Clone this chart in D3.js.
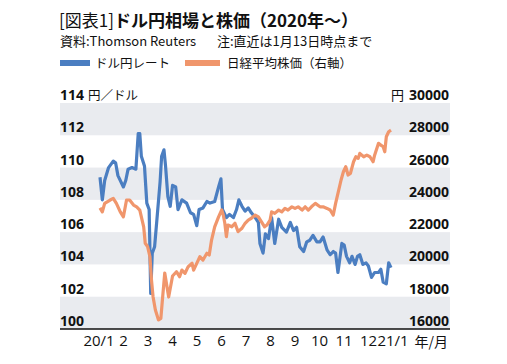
<!DOCTYPE html>
<html><head><meta charset="utf-8">
<script src="https://cdn.jsdelivr.net/npm/d3@7"></script>
<style>
html,body{margin:0;padding:0;background:#fff;}
svg{display:block;}
text{font-family:"Open Sans","Noto Sans CJK JP",sans-serif;fill:#111;}
.jp{font-family:"Noto Sans CJK JP",sans-serif;}
</style></head><body>
<svg id="c" width="507" height="364"></svg>
<script>
// ---- data ----
const usdDates = ["2020-01-06","2020-01-09","2020-01-12","2020-01-17","2020-01-23","2020-01-26","2020-01-29","2020-02-05","2020-02-08","2020-02-11","2020-02-16","2020-02-21","2020-02-24","2020-02-26","2020-02-28","2020-03-03","2020-03-06","2020-03-09","2020-03-11","2020-03-13","2020-03-16","2020-03-19","2020-03-23","2020-03-25","2020-03-28","2020-03-30","2020-04-02","2020-04-05","2020-04-08","2020-04-12","2020-04-15","2020-04-20","2020-04-26","2020-05-01","2020-05-05","2020-05-09","2020-05-12","2020-05-17","2020-05-22","2020-05-26","2020-06-01","2020-06-06","2020-06-09","2020-06-11","2020-06-16","2020-06-20","2020-06-25","2020-06-29","2020-07-02","2020-07-06","2020-07-10","2020-07-14","2020-07-18","2020-07-23","2020-07-27","2020-07-29","2020-08-02","2020-08-05","2020-08-09","2020-08-13","2020-08-17","2020-08-22","2020-08-26","2020-09-01","2020-09-06","2020-09-10","2020-09-14","2020-09-18","2020-09-23","2020-09-27","2020-10-01","2020-10-05","2020-10-10","2020-10-14","2020-10-18","2020-10-23","2020-10-27","2020-10-31","2020-11-03","2020-11-06","2020-11-11","2020-11-14","2020-11-17","2020-11-21","2020-11-24","2020-11-28","2020-12-01","2020-12-04","2020-12-08","2020-12-12","2020-12-15","2020-12-19","2020-12-23","2020-12-28","2020-12-31","2021-01-03","2021-01-07","2021-01-10","2021-01-13"];
const usdValues = [109.4,108.0,109.2,110.0,110.4,110.3,109.5,108.8,109.2,109.9,110.0,109.9,112.1,112.1,110.7,110.1,107.8,107.4,102.2,104.7,105.1,106.8,109.1,110.7,111.1,110.1,108.2,107.6,108.9,108.8,107.4,108.0,107.8,107.2,107.1,106.4,107.4,107.5,107.9,107.8,107.9,108.8,109.3,107.4,106.9,107.1,106.9,107.4,108.0,107.6,107.3,107.5,107.2,106.9,106.6,105.3,104.7,105.9,105.6,106.9,105.3,106.8,106.3,106.0,106.6,106.1,106.3,105.1,104.8,105.4,105.5,105.8,105.4,105.4,105.7,104.9,104.6,104.8,104.7,103.5,105.3,105.2,104.5,104.1,104.5,104.0,104.5,104.6,104.0,104.1,103.9,103.2,103.5,103.5,103.7,102.9,102.8,104.1,103.8];

const nkDates = ["2020-01-06","2020-01-09","2020-01-12","2020-01-19","2020-01-23","2020-01-27","2020-02-01","2020-02-05","2020-02-09","2020-02-13","2020-02-18","2020-02-22","2020-02-26","2020-03-02","2020-03-04","2020-03-07","2020-03-10","2020-03-12","2020-03-14","2020-03-17","2020-03-21","2020-03-24","2020-03-26","2020-03-29","2020-04-03","2020-04-08","2020-04-13","2020-04-17","2020-04-20","2020-04-24","2020-04-28","2020-05-03","2020-05-05","2020-05-09","2020-05-13","2020-05-17","2020-05-22","2020-05-25","2020-05-28","2020-06-01","2020-06-06","2020-06-10","2020-06-12","2020-06-14","2020-06-16","2020-06-18","2020-06-23","2020-06-27","2020-07-01","2020-07-06","2020-07-10","2020-07-14","2020-07-18","2020-07-23","2020-07-27","2020-07-31","2020-08-04","2020-08-07","2020-08-11","2020-08-13","2020-08-17","2020-08-22","2020-08-26","2020-08-30","2020-09-03","2020-09-08","2020-09-12","2020-09-16","2020-09-21","2020-09-25","2020-09-29","2020-10-03","2020-10-08","2020-10-14","2020-10-18","2020-10-23","2020-10-27","2020-10-31","2020-11-03","2020-11-06","2020-11-10","2020-11-13","2020-11-16","2020-11-19","2020-11-22","2020-11-26","2020-11-29","2020-12-02","2020-12-04","2020-12-09","2020-12-13","2020-12-17","2020-12-21","2020-12-23","2020-12-28","2020-12-31","2021-01-03","2021-01-05","2021-01-07","2021-01-10","2021-01-13"];
const nkValues = [23500,23260,23780,23990,24090,23780,23260,22950,23990,23990,23680,23570,23370,22330,21310,21100,20480,19030,18000,17180,16560,16660,17800,19470,17980,19280,19550,19240,19650,19450,19860,20070,19650,20070,20480,20270,20690,20580,21510,22330,22950,23370,23060,22550,21720,22440,22330,22550,22030,22240,22550,22750,22860,23060,22950,22640,22330,22440,22750,23260,23160,23370,23260,23470,23370,23570,23470,23570,23370,23570,23370,23570,23780,23570,23570,23470,23370,23060,23780,24400,25230,25740,26050,25540,25640,26360,26670,26570,26880,26670,26770,26670,26360,26770,27500,27390,27290,26980,27910,28220,28320];

const monthLabels = ["20/1","2","3","4","5","6","7","8","9","10","11","12","21/1"];
const leftTicks = [100,102,104,106,108,110,112,114];
const rightTicks = [16000,18000,20000,22000,24000,26000,28000,30000];
const bandPairs = [[112,114],[108,110],[104,106],[100,102]];
const seriesNames = ["ドル円レート","日経平均株価（右軸）"];
const colors = ["#4b7ec1","#f0966c"];

// ---- layout ----
const L = 60, R = 450, T = 103, B = 329;
const svg = d3.select("#c");
const parse = d3.timeParse("%Y-%m-%d");

const x = d3.scaleTime().domain([parse("2020-01-06"), parse("2021-01-13")]).range([100, 391]);
const xm = d3.scalePoint().domain(monthLabels).range([98.5, 392.5]);
const yL = d3.scaleLinear().domain([100,114]).range([B,T]);
const yR = d3.scaleLinear().domain([16000,30000]).range([B,T]);

// bands
svg.append("g").selectAll("rect").data(bandPairs).join("rect")
  .attr("x", L).attr("width", R-L)
  .attr("y", d => yL(d[1])).attr("height", d => yL(d[0]) - yL(d[1]))
  .attr("fill", "#e9ebef");

// lines (orange drawn over blue)
const usd = usdDates.map((d,i) => ({t: parse(d), v: usdValues[i]}));
const nk = nkDates.map((d,i) => ({t: parse(d), v: nkValues[i]}));
svg.append("path").datum(usd)
  .attr("d", d3.line().x(d => x(d.t)).y(d => yL(d.v)))
  .attr("fill","none").attr("stroke",colors[0]).attr("stroke-width",3.2).attr("stroke-linejoin","round");
svg.append("path").datum(nk)
  .attr("d", d3.line().x(d => x(d.t)).y(d => yR(d.v)))
  .attr("fill","none").attr("stroke",colors[1]).attr("stroke-width",3.2).attr("stroke-linejoin","round");

// left labels
svg.append("g").selectAll("text").data(leftTicks).join("text")
  .attr("x", L).attr("y", d => yL(d) - 3)
  .attr("font-size", 14).attr("font-weight", "bold")
  .text(d => d);
svg.append("text").attr("class","jp").attr("x", 88).attr("y", yL(114) - 3)
  .attr("font-size", 12.5).text("円／ドル");

// right labels
svg.append("g").selectAll("text").data(rightTicks).join("text")
  .attr("x", R - 1).attr("y", d => yR(d) - 3)
  .attr("text-anchor","end")
  .attr("font-size", 14).attr("font-weight", "bold")
  .text(d => d);
svg.append("text").attr("class","jp").attr("x", 404).attr("y", yR(30000) - 3)
  .attr("text-anchor","end").attr("font-size", 13).text("円");

// x axis
svg.append("line").attr("x1", L).attr("x2", R).attr("y1", B).attr("y2", B)
  .attr("stroke","#111").attr("stroke-width",1.3);
const ax = svg.append("g").attr("transform", `translate(0,${B})`)
  .call(d3.axisBottom(xm).tickSize(0).tickPadding(6));
ax.select(".domain").remove();
ax.selectAll("text").attr("font-size", 15).attr("font-family","'Open Sans',sans-serif").attr("fill","#111");
svg.append("text").attr("class","jp").attr("x", 448).attr("y", 347)
  .attr("text-anchor","end").attr("font-size", 14).text("年/月");

// title
const title = svg.append("text").attr("class","jp").attr("x", 59).attr("y", 27).attr("font-size", 17);
title.append("tspan").attr("font-weight","normal").text("[図表1]");
title.append("tspan").attr("font-weight","bold").text("ドル円相場と株価（2020年～）");
svg.append("text").attr("class","jp").attr("x", 60).attr("y", 46).attr("font-size", 13).text("資料:Thomson Reuters");
svg.append("text").attr("class","jp").attr("x", 217).attr("y", 46).attr("font-size", 13).text("注:直近は1月13日時点まで");

// legend
const leg = [{x:60, w:30, tx:95},{x:185, w:35, tx:227}];
svg.append("g").selectAll("rect").data(leg).join("rect")
  .attr("x", d => d.x).attr("width", d => d.w).attr("y", 60).attr("height", 6)
  .attr("fill", (d,i) => colors[i]);
svg.append("g").selectAll("text").data(leg).join("text")
  .attr("class","jp").attr("x", d => d.tx).attr("y", 68).attr("font-size", 12.5)
  .text((d,i) => seriesNames[i]);
</script>
</body></html>
